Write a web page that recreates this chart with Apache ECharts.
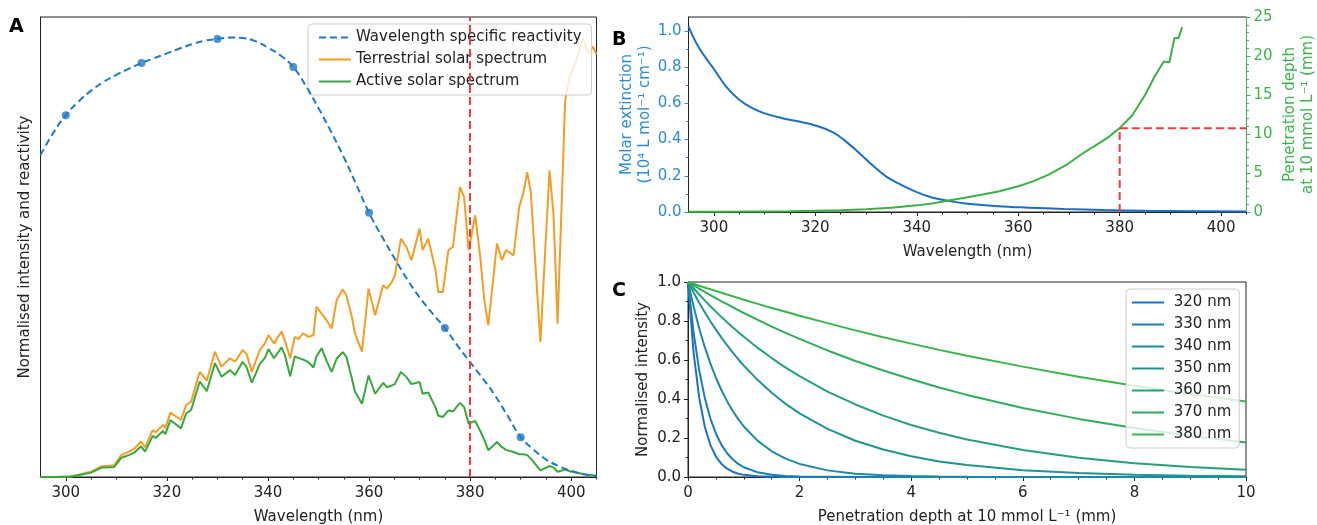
<!DOCTYPE html>
<html><head><meta charset="utf-8">
<script src="https://cdn.jsdelivr.net/npm/echarts@6/dist/echarts.min.js"></script>
<style>html,body{margin:0;padding:0;background:#fff}#c{width:1317px;height:525px}</style>
</head><body><div id="c"></div>
<script>
// ---------- Panel A data ----------
const reactWl = [295,297.5,300,302.5,305,307.5,310,312.5,315,317.5,320,322.5,325,327.5,330,332.5,335,337.5,340,342.5,345,347.5,350,352.5,355,357.5,360,362.5,365,367.5,370,372.5,375,377.5,380,382.5,385,387.5,390,392.5,395,397.5,400,402.5,405];
const reactVal = [0.735,0.785,0.826,0.857,0.882,0.902,0.918,0.932,0.945,0.956,0.967,0.978,0.988,0.996,1.000,1.003,1.002,0.995,0.980,0.962,0.936,0.893,0.842,0.788,0.730,0.667,0.603,0.550,0.500,0.452,0.410,0.374,0.340,0.300,0.262,0.225,0.185,0.138,0.091,0.063,0.040,0.025,0.014,0.006,0.002];
const reactPtWl = [300,315,330,345,360,375,390];
const reactPtVal = [0.826,0.945,1.000,0.936,0.603,0.340,0.091];

const solarWl = [295,298,301,302.5,305,307,309.6,311,312.5,313.6,
  314.9,315.7,317.2,317.8,319.2,319.7,320.7,322.8,323.8,324.8,
  326.5,327.9,329.5,330.8,332.5,333.5,335.0,335.8,336.8,338.4,
  339.4,340.1,341.2,342.7,343.3,344.4,345.3,346.0,347.0,348.0,
  349.0,349.6,350.6,351.6,352.6,353.6,354.8,355.5,356.6,357.2,
  358.6,359.9,361.2,362.8,363.5,364.5,365.1,366.3,367.4,368.4,
  370.0,370.6,371.7,373.1,373.7,374.6,375.7,376.6,378.0,378.8,
  379.7,381.0,382.0,382.8,383.6,385.3,386.3,387.1,388.6,389.7,
  390.5,391.3,392.0,393.9,395.7,396.5,397.3,398.8,399.7,400.8,
  402.3,403.4,404.3,405.0];
const solarTerrestrial = [0.000,0.000,0.001,0.005,0.012,0.024,0.027,0.050,0.058,0.065,
  0.081,0.068,0.107,0.102,0.119,0.112,0.147,0.130,0.164,0.172,
  0.240,0.220,0.286,0.252,0.271,0.263,0.290,0.280,0.240,0.290,
  0.305,0.324,0.305,0.332,0.313,0.271,0.320,0.315,0.328,0.320,
  0.324,0.389,0.373,0.358,0.339,0.404,0.428,0.415,0.366,0.328,
  0.286,0.430,0.369,0.438,0.430,0.445,0.460,0.544,0.525,0.495,
  0.567,0.518,0.544,0.476,0.422,0.422,0.518,0.525,0.662,0.639,
  0.518,0.597,0.503,0.403,0.346,0.533,0.495,0.518,0.506,0.616,
  0.647,0.696,0.650,0.308,0.700,0.600,0.350,0.860,0.913,0.944,
  1.001,0.966,0.982,0.965];
const solarActive = [0.000,0.000,0.001,0.004,0.010,0.021,0.023,0.044,0.050,0.056,
  0.070,0.058,0.094,0.089,0.105,0.098,0.130,0.111,0.145,0.153,
  0.218,0.196,0.260,0.229,0.244,0.233,0.263,0.250,0.215,0.258,
  0.272,0.292,0.271,0.296,0.280,0.230,0.275,0.272,0.268,0.262,
  0.250,0.275,0.294,0.265,0.240,0.270,0.285,0.275,0.225,0.195,
  0.167,0.232,0.190,0.215,0.205,0.209,0.212,0.240,0.228,0.212,
  0.217,0.190,0.193,0.160,0.140,0.137,0.152,0.150,0.169,0.160,
  0.122,0.128,0.105,0.085,0.061,0.080,0.068,0.062,0.057,0.052,
  0.052,0.050,0.042,0.015,0.025,0.022,0.012,0.017,0.013,0.011,
  0.007,0.005,0.004,0.003];
const cutoffWl = 380;
const wlTicks = [300,320,340,360,380,400];
const wlMinorTicks = [305,310,315,325,330,335,345,350,355,365,370,375,385,390,395,405];

// ---------- Panel B data ----------
const extWl = [295,297,300,302.5,305,307.5,310,313.5,317,320,323.5,326,328.7,331.4,334,336.6,340,343,346.5,350,356,362,369,377,385,395,405];
const extVal = [1.025,0.91,0.79,0.69,0.62,0.575,0.545,0.518,0.498,0.478,0.44,0.39,0.325,0.255,0.195,0.155,0.11,0.08,0.06,0.046,0.032,0.024,0.017,0.011,0.007,0.004,0.003];
const depthWl = [295,300,305,310,315,320,325,330,335,340,343,346,350,353,356.3,360,362.8,366,369.4,372.7,375.9,378,380,382.5,385,387,388.7,389.8,390.8,391.6,392.3];
const depthVal = [0.02,0.03,0.05,0.08,0.11,0.16,0.22,0.35,0.55,0.85,1.1,1.45,1.9,2.25,2.65,3.3,3.9,4.8,6.0,7.5,8.8,9.7,10.75,12.4,15.0,17.5,19.3,19.2,22.3,22.3,23.7];
const refDepth = 10.75;
const extTicks = [0,0.2,0.4,0.6,0.8,1.0];
const extMinorTicks = [0.1,0.3,0.5,0.7,0.9];

// ---------- Panel C data ----------
const depthC = [0,0.1,0.2,0.3,0.4,0.5,0.6,0.7,0.8,0.9,1.0,1.25,1.5,1.75,2,2.5,3,3.5,4,4.5,5,6,7,8,9,10];
const cNames = ['320 nm','330 nm','340 nm','350 nm','360 nm','370 nm','380 nm'];
const I320 = [1,0.638,0.407,0.259,0.165,0.105,0.067,0.043,0.027,0.017,0.011,0.004,0.001,0,0,0,0,0,0,0,0,0,0,0,0,0];
const I330 = [1,0.741,0.549,0.407,0.301,0.223,0.165,0.122,0.091,0.067,0.050,0.024,0.011,0.005,0.002,0.001,0,0,0,0,0,0,0,0,0,0];
const I340 = [1,0.874,0.763,0.667,0.583,0.509,0.445,0.389,0.340,0.297,0.259,0.185,0.132,0.094,0.067,0.034,0.017,0.009,0.005,0.002,0.001,0,0,0,0,0];
const I350 = [1,0.946,0.894,0.845,0.799,0.756,0.715,0.676,0.639,0.604,0.571,0.497,0.432,0.375,0.326,0.247,0.186,0.141,0.106,0.080,0.061,0.035,0.020,0.011,0.006,0.004];
const I360 = [1,0.968,0.936,0.906,0.876,0.848,0.820,0.794,0.768,0.743,0.719,0.662,0.610,0.561,0.517,0.438,0.372,0.315,0.267,0.227,0.192,0.138,0.099,0.071,0.051,0.037];
const I370 = [1,0.983,0.966,0.949,0.933,0.917,0.901,0.886,0.871,0.856,0.841,0.806,0.771,0.739,0.708,0.649,0.595,0.546,0.501,0.459,0.421,0.354,0.298,0.251,0.211,0.177];
const I380 = [1,0.991,0.981,0.972,0.963,0.954,0.945,0.936,0.927,0.918,0.909,0.888,0.867,0.847,0.827,0.789,0.752,0.717,0.684,0.652,0.622,0.566,0.514,0.468,0.425,0.387];
const cSeries = [I320,I330,I340,I350,I360,I370,I380];

// ---------- styles ----------
const FONT = 'DejaVu Sans';
const FS = 15;
const INK = '#222';
const BLUE = '#1f78c8';
const BLUE_B = '#1a6fc2';
const BLUE_TXT = '#2b8bd4';
const ORANGE = '#f29d26';
const GREEN = '#38a83c';
const GREEN_B = '#3cb043';
const GREEN_TXT = '#3cb44b';
const RED = '#f03c3c';
const cColors = ['#1f70c4','#1b7cb8','#1c89a8','#1f9492','#26a177','#2fac5c','#3ab54a'];

const pairs = (xs, ys) => xs.map((x, i) => [x, ys[i]]);
const lbl = (c) => ({fontFamily: FONT, fontSize: FS, color: c || INK});

function mainX(grid, ticks, name) {
  return {type:'value', gridIndex:grid, min:295, max:405, position:'bottom',
    name:name, nameLocation:'middle', nameGap:33, nameTextStyle:lbl(),
    axisLine:{show:true, onZero:false, lineStyle:{color:INK, width:1}},
    axisTick:{show:true, customValues:ticks, length:4, lineStyle:{color:INK}},
    axisLabel:Object.assign({show:true, customValues:ticks, margin:9}, lbl()),
    splitLine:{show:false}};
}
function minorX(grid, ticks) {
  return {type:'value', gridIndex:grid, min:295, max:405, position:'bottom',
    axisLine:{show:false}, axisTick:{show:true, customValues:ticks, length:2.5, lineStyle:{color:INK}},
    axisLabel:{show:false}, splitLine:{show:false}};
}
const legendBase = {orient:'vertical', itemWidth:32, itemHeight:15, itemGap:7,
  backgroundColor:'rgba(255,255,255,0.8)', borderColor:'#cccccc', borderWidth:1, borderRadius:4,
  textStyle:lbl(), selectedMode:false, itemStyle:{opacity:0}};
const gridBase = {show:true, borderColor:INK, borderWidth:1, backgroundColor:'transparent',
  containLabel:false, outerBoundsMode:'none'};

const option = {
  animation:false,
  backgroundColor:'#fff',
  textStyle:{fontFamily:FONT},
  grid:[
    Object.assign({left:40.5, top:17, width:556, height:460}, gridBase),
    Object.assign({left:688.5, top:17, width:558, height:195}, gridBase),
    Object.assign({left:688, top:282, width:558, height:195}, gridBase)
  ],
  xAxis:[
    mainX(0, wlTicks, 'Wavelength (nm)'),
    minorX(0, wlMinorTicks),
    mainX(1, wlTicks, 'Wavelength (nm)'),
    minorX(1, wlMinorTicks),
    {type:'value', gridIndex:2, min:0, max:10, interval:2,
      name:'Penetration depth at 10 mmol L\u207B\u00B9 (mm)', nameLocation:'middle', nameGap:33, nameTextStyle:lbl(),
      axisLine:{show:true, onZero:false, lineStyle:{color:INK}},
      axisTick:{show:true, length:4, lineStyle:{color:INK}},
      minorTick:{show:true, splitNumber:4, length:2.5, lineStyle:{color:INK}},
      axisLabel:Object.assign({margin:9}, lbl()), splitLine:{show:false}, minorSplitLine:{show:false}}
  ],
  yAxis:[
    {type:'value', gridIndex:0, min:0, max:1.05,
      name:'Normalised intensity and reactivity', nameLocation:'middle', nameGap:8, nameRotate:90, nameTextStyle:lbl(),
      axisLine:{show:true, onZero:false, lineStyle:{color:INK}}, axisTick:{show:false}, axisLabel:{show:false}, splitLine:{show:false}},
    {type:'value', gridIndex:1, min:0, max:1.077, position:'left',
      name:'Molar extinction\n(10\u2074 L mol\u207B\u00B9 cm\u207B\u00B9)', nameLocation:'middle', nameGap:32, nameRotate:90,
      nameTextStyle:Object.assign({lineHeight:18}, lbl(BLUE_TXT)),
      axisLine:{show:true, onZero:false, lineStyle:{color:INK}},
      axisTick:{show:true, customValues:extTicks, length:4, lineStyle:{color:BLUE_TXT}},
      axisLabel:Object.assign({customValues:extTicks, margin:7, formatter:(v)=>v.toFixed(1)}, lbl(BLUE_TXT)),
      splitLine:{show:false}},
    {type:'value', gridIndex:1, min:0, max:1.077, position:'left',
      axisLine:{show:false}, axisTick:{show:true, customValues:extMinorTicks, length:2.5, lineStyle:{color:BLUE_TXT}},
      axisLabel:{show:false}, splitLine:{show:false}},
    {type:'value', gridIndex:1, min:0, max:25, interval:5, position:'right',
      name:'Penetration depth\nat 10 mmol L\u207B\u00B9 (mm)', nameLocation:'middle', nameGap:35, nameRotate:90,
      nameTextStyle:Object.assign({lineHeight:18}, lbl(GREEN_TXT)),
      axisLine:{show:true, onZero:false, lineStyle:{color:GREEN_TXT}},
      axisTick:{show:true, length:4, lineStyle:{color:GREEN_TXT}},
      minorTick:{show:true, splitNumber:5, length:2.5, lineStyle:{color:GREEN_TXT}},
      axisLabel:Object.assign({margin:7}, lbl(GREEN_TXT)), splitLine:{show:false}, minorSplitLine:{show:false}},
    {type:'value', gridIndex:2, min:0, max:1, interval:0.2,
      name:'Normalised intensity', nameLocation:'middle', nameGap:37, nameRotate:90, nameTextStyle:lbl(),
      axisLine:{show:true, onZero:false, lineStyle:{color:INK}},
      axisTick:{show:true, length:4, lineStyle:{color:INK}},
      minorTick:{show:true, splitNumber:2, length:2.5, lineStyle:{color:INK}},
      axisLabel:Object.assign({margin:7, formatter:(v)=>v.toFixed(1)}, lbl()), splitLine:{show:false}, minorSplitLine:{show:false}}
  ],
  legend:[
    Object.assign({}, legendBase, {data:['Wavelength specific reactivity','Terrestrial solar spectrum','Active solar spectrum'],
      left:308, top:24, padding:[6,10,6,10]}),
    Object.assign({}, legendBase, {data:cNames, left:1126, top:289, padding:[6,8,6,5],
      formatter:(n)=>' ' + n})
  ],
  graphic:[
    {type:'text', left:9, top:18, style:{text:'A', font:'bold 19px "DejaVu Sans"', fill:'#000'}},
    {type:'text', left:612, top:31, style:{text:'B', font:'bold 19px "DejaVu Sans"', fill:'#000'}},
    {type:'text', left:612, top:282, style:{text:'C', font:'bold 19px "DejaVu Sans"', fill:'#000'}}
  ],
  series:[
    {name:'Terrestrial solar spectrum', type:'line', xAxisIndex:0, yAxisIndex:0, data:pairs(solarWl, solarTerrestrial),
      symbol:'none', lineStyle:{color:ORANGE, width:2}, itemStyle:{color:ORANGE}, z:2},
    {name:'Active solar spectrum', type:'line', xAxisIndex:0, yAxisIndex:0, data:pairs(solarWl, solarActive),
      symbol:'none', lineStyle:{color:GREEN, width:2}, itemStyle:{color:GREEN}, z:3},
    {name:'Wavelength specific reactivity', type:'line', xAxisIndex:0, yAxisIndex:0, data:pairs(reactWl, reactVal),
      smooth:0.4, symbol:'none', lineStyle:{color:BLUE, width:2, type:[7,4]}, itemStyle:{color:BLUE}, z:4},
    {type:'scatter', xAxisIndex:0, yAxisIndex:0, data:pairs(reactPtWl, reactPtVal), symbolSize:8,
      itemStyle:{color:BLUE}, z:5, silent:true},
    {type:'line', xAxisIndex:0, yAxisIndex:0, data:[], symbol:'none', z:6,
      markLine:{silent:true, symbol:'none', label:{show:false}, animation:false,
        lineStyle:{color:RED, width:2, type:[8,4]}, data:[{xAxis:cutoffWl}]}},

    {name:'Molar extinction', type:'line', xAxisIndex:2, yAxisIndex:1, data:pairs(extWl, extVal),
      smooth:0.4, symbol:'none', lineStyle:{color:BLUE_B, width:2}, z:3},
    {name:'Penetration depth', type:'line', xAxisIndex:2, yAxisIndex:3, data:pairs(depthWl, depthVal),
      symbol:'none', lineStyle:{color:GREEN_B, width:2}, z:3},
    {type:'line', xAxisIndex:2, yAxisIndex:3, data:[[cutoffWl,0],[cutoffWl,refDepth],[405,refDepth]],
      symbol:'none', lineStyle:{color:RED, width:2, type:[8,4]}, z:4},

    ...cSeries.map((vals, i) => ({name:cNames[i], type:'line', xAxisIndex:4, yAxisIndex:4,
      data:pairs(depthC, vals), smooth:false, symbol:'none',
      lineStyle:{color:cColors[i], width:2}, itemStyle:{color:cColors[i]}, z:3}))
  ]
};
const chart = echarts.init(document.getElementById('c'), null, {renderer:'canvas'});
chart.setOption(option);
</script></body></html>
